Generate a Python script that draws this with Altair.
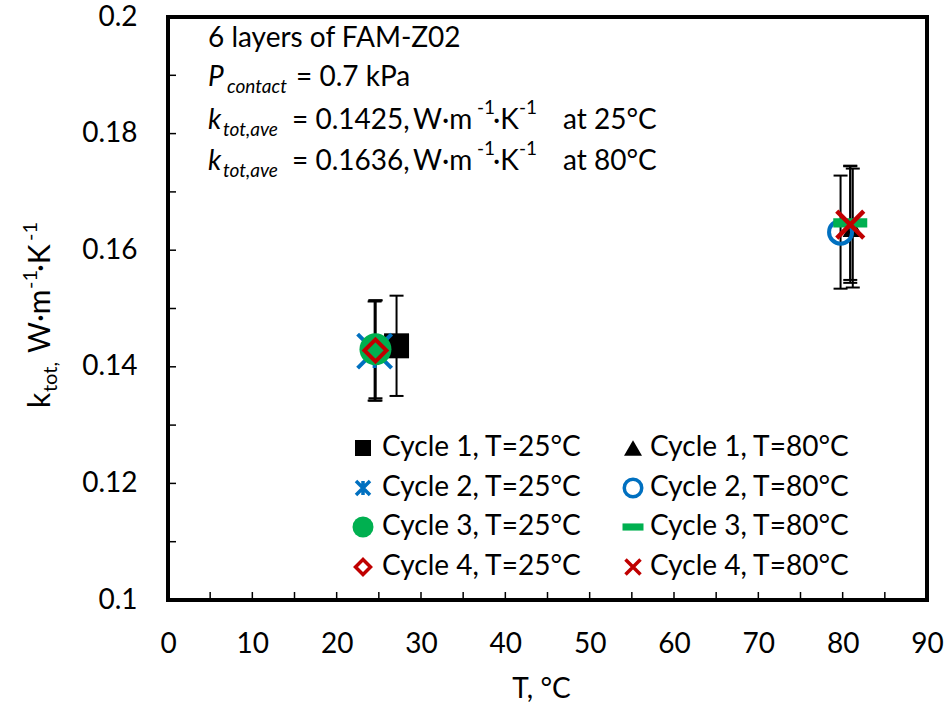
import altair as alt
import pandas as pd

FONT = "Lato"

# ---------------- data ----------------
series = ["Cycle 1, T=25°C", "Cycle 2, T=25°C", "Cycle 3, T=25°C", "Cycle 4, T=25°C",
          "Cycle 1, T=80°C", "Cycle 2, T=80°C", "Cycle 3, T=80°C", "Cycle 4, T=80°C"]
temp_c = [27.1, 24.5, 24.6, 24.6, 81.2, 79.75, 80.9, 80.9]
k_tot = [0.1436, 0.1427, 0.1430, 0.1428, 0.1638, 0.1631, 0.1647, 0.1644]
k_err = [0.0086, 0.0085, 0.0084, 0.0086, 0.0102, 0.0097, 0.0098, 0.0100]

x_labels = [0, 10, 20, 30, 40, 50, 60, 70, 80, 90]
x_ticks = [5, 10, 15, 20, 25, 30, 35, 40, 45, 50, 55, 60, 65, 70, 75, 80, 85]
y_labels = [0.10, 0.12, 0.14, 0.16, 0.18, 0.20]
y_ticks = [0.11, 0.12, 0.13, 0.14, 0.15, 0.16, 0.17, 0.18, 0.19]

df = pd.DataFrame({"series": series, "T": temp_c, "k": k_tot, "err": k_err})

# ---------------- styles ----------------
BLUE = "#0070C0"
GREEN = "#00B050"
RED = "#C00000"
ASTER = "M-1,-1L1,1M-1,1L1,-1M0,-1L0,1"
XCROSS = "M-1,-1L1,1M-1,1L1,-1"
DASH = "M-1,-0.27L1,-0.27L1,0.27L-1,0.27Z"
DASH_LEG = "M-1,-0.34L1,-0.34L1,0.34L-1,0.34Z"

# (shape, color, filled, plot size, plot stroke, legend shape, legend size, legend stroke)
styles = [
    ("square", "black", True, 625, 0, "square", 256, 0),
    (ASTER, BLUE, False, 1156, 4, ASTER, 196, 3.5),
    ("circle", GREEN, True, 1024, 0, "circle", 441, 0),
    ("diamond", RED, False, 484, 4, "diamond", 225, 3.5),
    ("triangle-up", "black", True, 420, 0, "triangle-up", 324, 0),
    ("circle", BLUE, False, 529, 4, "circle", 306, 3.5),
    (DASH, GREEN, True, 1156, 0, DASH_LEG, 441, 0),
    (XCROSS, RED, False, 729, 4.5, XCROSS, 225, 3.5),
]

W, H = 759, 583
xs = alt.Scale(domain=[0, 90], nice=False, zero=False)
ys = alt.Scale(domain=[0.1, 0.2], nice=False, zero=False)

xaxis = alt.Axis(values=x_labels, format="d", ticks=False, domain=False, grid=False,
                 labelFontSize=28, labelPadding=30, labelColor="black", labelFont=FONT,
                 labelFlush=False, labelOverlap=False,
                 title="T, °C", titleFont=FONT, titleFontSize=28, titleFontWeight="normal",
                 titleColor="black", titleX=373, titleY=97, titleBaseline="alphabetic",
                 titleAlign="center")
yaxis = alt.Axis(values=y_labels, format=".2~f", ticks=False, domain=False, grid=False,
                 labelFontSize=28, labelPadding=31, labelColor="black", labelFont=FONT,
                 labelFlush=False, labelOverlap=False, title=None)


def X(f):
    return alt.X(f, type="quantitative", scale=xs, axis=xaxis)


def Y(f):
    return alt.Y(f, type="quantitative", scale=ys, axis=yaxis)


one = pd.DataFrame({"d": [0]})


def txt(s, x, y, size=28, italic=False, angle=None, align="left", baseline="alphabetic"):
    kw = dict(text=s, fontSize=size, align=align, baseline=baseline, color="black", font=FONT)
    if italic:
        kw["fontStyle"] = "italic"
    if angle is not None:
        kw["angle"] = angle
    return alt.Chart(one).mark_text(**kw).encode(x=alt.value(x), y=alt.value(y))


layers = []

# error bars
eb = alt.Chart(df).transform_calculate(lo="datum.k - datum.err", hi="datum.k + datum.err")
layers.append(eb.mark_rule(color="black", strokeWidth=2).encode(x=X("T"), y=Y("lo"), y2="hi:Q"))
layers.append(eb.mark_tick(orient="horizontal", size=14, thickness=2, color="black", opacity=1)
              .encode(x=X("T"), y=Y("lo")))
layers.append(eb.mark_tick(orient="horizontal", size=14, thickness=2, color="black", opacity=1)
              .encode(x=X("T"), y=Y("hi")))

# inward tick marks
layers.append(alt.Chart(pd.DataFrame({"v": x_ticks})).mark_rule(color="black", strokeWidth=1.5)
              .encode(x=X("v"), y=alt.value(H), y2=alt.value(H - 8)))
layers.append(alt.Chart(pd.DataFrame({"v": y_ticks})).mark_rule(color="black", strokeWidth=1.5)
              .encode(y=Y("v"), x=alt.value(0), x2=alt.value(8)))

# markers
for name, st in zip(series, styles):
    shape, color, filled, size, sw, *_ = st
    kw = dict(shape=shape, size=size, opacity=1, filled=filled)
    if filled:
        kw.update(fill=color, strokeWidth=0)
    else:
        kw.update(stroke=color, strokeWidth=sw, fillOpacity=0)
    layers.append(alt.Chart(df).transform_filter(alt.datum.series == name)
                  .mark_point(**kw).encode(x=X("T"), y=Y("k")))

# legend (two columns, four rows)
leg_mx = [195, 465]
leg_tx = [214, 482]
leg_y = [431, 471, 510, 550]
for i, (name, st) in enumerate(zip(series, styles)):
    col, row = i // 4, i % 4
    _, color, filled, _, _, lshape, lsize, lsw = st
    kw = dict(shape=lshape, size=lsize, opacity=1, filled=filled)
    if filled:
        kw.update(fill=color, strokeWidth=0)
    else:
        kw.update(stroke=color, strokeWidth=lsw, fill="white", fillOpacity=1)
    layers.append(alt.Chart(one).mark_point(**kw)
                  .encode(x=alt.value(leg_mx[col]), y=alt.value(leg_y[row])))
    layers.append(txt(name, leg_tx[col], leg_y[row], baseline="middle"))

# annotation block (pixel positions relative to the plot area)
layers += [
    txt("6 layers of FAM-Z02", 40, 30),
    txt("P", 40, 69, italic=True),
    txt("contact", 59, 76, size=19, italic=True),
    txt("= 0.7 kPa", 128, 69),
]
for base, val, temp in [(112, "0.1425", "25"), (153, "0.1636", "80")]:
    layers += [
        txt("k", 40, base, italic=True),
        txt("tot,ave", 55, base + 6.5, size=19, italic=True),
        txt("= " + val + ",", 124, base),
        txt("W·m", 245, base),
        txt("-1", 309, base - 15, size=19),
        txt("·K", 325, base),
        txt("-1", 351, base - 15, size=19),
        txt("at " + temp + "°C", 395, base),
    ]

# y axis title with subscript/superscripts (rotated)
layers += [
    txt("k", -118, 391, size=30, angle=270),
    txt("tot,", -111, 375, size=20, angle=270),
    txt("W·m", -118, 336, size=30, angle=270),
    txt("-1", -131, 272, size=20, angle=270),
    txt("·K", -118, 255, size=30, angle=270),
    txt("-1", -131, 224, size=20, angle=270),
]

chart = alt.layer(*layers).properties(
    width=W, height=H,
    autosize=alt.AutoSizeParams(type="none"),
    padding={"left": 168, "top": 17, "right": 25, "bottom": 105},
).configure(font=FONT, background="white",
            view=alt.ViewConfig(stroke="black", strokeWidth=4))

chart.save("out.html", embed_options={"renderer": "svg", "actions": False})
